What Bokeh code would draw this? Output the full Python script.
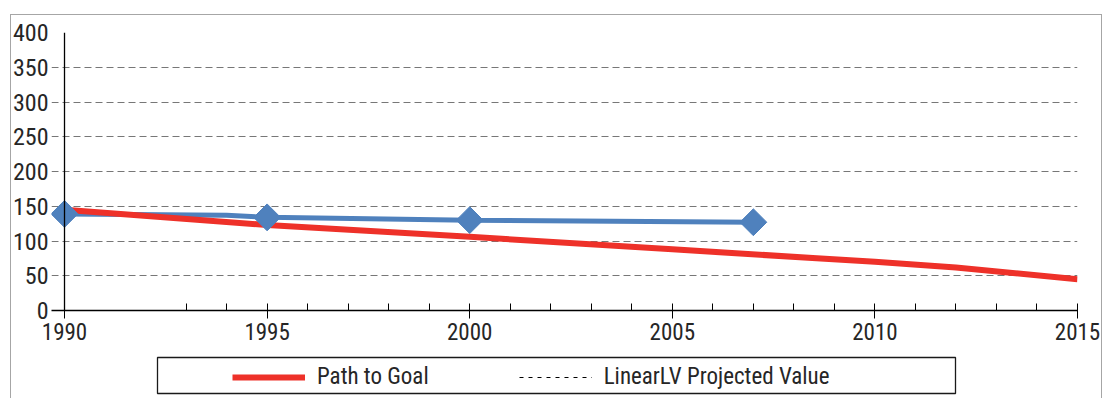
import math
from bokeh.plotting import figure
from bokeh.layouts import column
from bokeh.models import (Range1d, FixedTicker, Legend, LegendItem, Span, BoxAnnotation,
                          InlineStyleSheet)
from bokeh.embed import file_html
from bokeh.resources import INLINE

# ---- data ----
goal_years = [1990, 1995, 2000, 2005, 2010, 2012, 2015]
goal_values = [145, 123, 106, 88, 70, 62, 45]

actual_line_years = [1990, 1994, 1995, 2000, 2007]
actual_line_values = [139, 137, 134, 130, 127]
marker_years = [1990, 1995, 2000, 2007]
marker_values = [139, 134, 130, 127]

projected_years = []
projected_values = []

x_major_ticks = [1990, 1995, 2000, 2005, 2010, 2015]
x_minor_ticks = [1993, 1994, 1996, 1997, 1998, 1999, 2001, 2002, 2003, 2004,
                 2006, 2007, 2008, 2009, 2011, 2012, 2013, 2014]
y_ticks = [0, 50, 100, 150, 200, 250, 300, 350, 400]

FONT = "Roboto Condensed"
TXT = "#262626"
RED = "#EE3129"
BLUE = "#4F81BD"

p = figure(width=1105, height=352, x_range=Range1d(1989.679, 2015), y_range=Range1d(0, 400),
           output_backend="svg", toolbar_location=None,
           min_border_left=51, min_border_right=28, min_border_top=32, min_border_bottom=42)
p.outline_line_color = None
p.background_fill_color = "white"
p.border_fill_color = "white"

# axes
xa = p.xaxis[0]
xa.ticker = FixedTicker(ticks=x_major_ticks, minor_ticks=x_minor_ticks)
xa.axis_line_color = "black"
xa.axis_line_width = 1.3
xa.major_tick_in = 7
xa.major_tick_out = 8
xa.minor_tick_in = 7
xa.minor_tick_out = 0
xa.major_tick_line_color = "black"
xa.minor_tick_line_color = "black"
xa.major_label_text_font = FONT
xa.major_label_text_font_size = "23px"
xa.major_label_text_color = TXT
xa.major_label_standoff = 4

ya = p.yaxis[0]
ya.ticker = FixedTicker(ticks=y_ticks)
ya.axis_line_color = None
ya.major_tick_in = 0
ya.major_tick_out = 0
ya.minor_tick_line_color = None
ya.major_label_text_font = FONT
ya.major_label_text_font_size = "24px"
ya.major_label_text_color = TXT
ya.major_label_standoff = 3

# vertical axis line sits at the first year
p.add_layout(Span(location=x_major_ticks[0], dimension="height", line_color="black", line_width=1.3))

p.xgrid.visible = False
p.ygrid.ticker = FixedTicker(ticks=y_ticks)
p.ygrid.grid_line_color = "#777777"
p.ygrid.grid_line_dash = "7 4"
p.ygrid.grid_line_width = 1

# series
p.line(actual_line_years, actual_line_values, line_color=BLUE, line_width=5)
p.line(goal_years, goal_values, line_color=RED, line_width=6)
p.line(projected_years, projected_values, line_color="black", line_width=1, line_dash="4 5")
p.scatter(marker_years, marker_values, marker="square", angle=math.pi / 4, size=19,
          fill_color=BLUE, line_color=BLUE)

# legend strip: ranges in pixels so the legend frame can be placed
lg = figure(width=1105, height=46, x_range=Range1d(51, 1077), y_range=Range1d(46, 0),
            x_axis_type=None, y_axis_type=None, output_backend="svg", toolbar_location=None,
            min_border_left=51, min_border_right=28, min_border_top=0, min_border_bottom=0)
lg.xgrid.visible = False
lg.ygrid.visible = False
lg.outline_line_color = None
lg.border_fill_color = "white"
# key carriers: same series, lying outside this strip's view
goal_key = lg.line(goal_years, goal_values, line_color=RED, line_width=6)
proj_key = lg.line(goal_years, goal_values, line_color="black", line_width=1, line_dash="4 5")
legend = Legend(items=[LegendItem(label="Path to Goal", renderers=[goal_key]),
                       LegendItem(label="LinearLV Projected Value", renderers=[proj_key])],
                orientation="horizontal", location=(181, 8),
                padding=0, margin=0, spacing=90,
                glyph_width=73, glyph_height=26, label_height=26, label_standoff=12,
                label_text_font=FONT, label_text_font_size="23px", label_text_color=TXT,
                border_line_color=None, background_fill_alpha=0)
lg.add_layout(legend, "center")
lg.add_layout(BoxAnnotation(left=157, right=955, top=5, bottom=41,
                            fill_alpha=0, line_color="#1a1a1a", line_alpha=1, line_width=1.3))

layout = column(p, lg, spacing=0)
layout.stylesheets = [InlineStyleSheet(css=(
    ":host::after { content: ''; position: absolute; left: 10px; top: 14px; width: 1090px;"
    " height: 383px; border-top: 1px solid #A6A6A6; border-left: 1px solid #A6A6A6;"
    " border-right: 1px solid #A6A6A6; pointer-events: none; z-index: 10; }"))]

open("out.html", "w").write(file_html(layout, INLINE))
